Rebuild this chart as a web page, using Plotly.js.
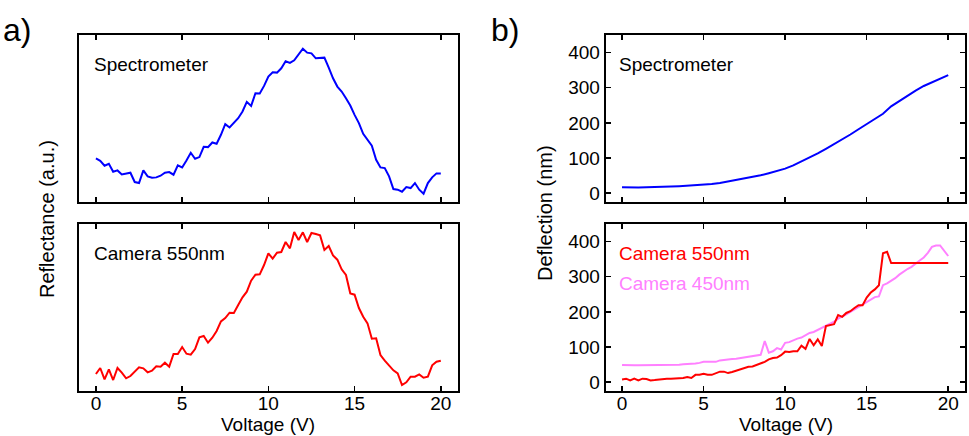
<!DOCTYPE html>
<html>
<head>
<meta charset="utf-8">
<script src="https://cdn.plot.ly/plotly-3.0.1.min.js"></script>
<style>html,body{margin:0;padding:0;background:#fff;}#chart{width:969px;height:436px;}</style>
</head>
<body>
<div id="chart"></div>
<script>
// Voltage grid (V)
const voltage = [0,0.25,0.5,0.75,1,1.25,1.5,1.75,2,2.25,2.5,2.75,3,3.25,3.5,3.75,4,4.25,4.5,4.75,
  5,5.25,5.5,5.75,6,6.25,6.5,6.75,7,7.25,7.5,7.75,8,8.25,8.5,8.75,9,9.25,9.5,9.75,
  10,10.25,10.5,10.75,11,11.25,11.5,11.75,12,12.25,12.5,12.75,13,13.25,13.5,13.75,14,14.25,14.5,14.75,
  15,15.25,15.5,15.75,16,16.25,16.5,16.75,17,17.25,17.5,17.75,18,18.25,18.5,18.75,19,19.25,19.5,19.75,20];
const voltageHalf = [0,0.5,1,1.5,2,2.5,3,3.5,4,4.5,5,5.5,6,6.5,7,7.5,8,8.5,9,9.5,
  10,10.5,11,11.5,12,12.5,13,13.5,14,14.5,15,15.5,16,16.5,17,17.5,18,18.5,19,19.5,20];

// a) Reflectance (a.u.)
const reflSpectrometer = [131,124,109,115,91,95,83,85,88,60,
  57,95,77,73,74,79,88,90,82,110,
  104,125,148,130,135,166,165,179,175,202,
  234,224,237,252,272,301,289,327,326,349,
  377,390,389,402,423,418,426,443,461,449,
  447,432,432,434,404,372,347,332,312,290,
  262,237,205,187,169,127,104,102,77,39,
  37,31,45,42,57,37,25,57,74,86,86];
const reflCamera550 = [51,69,35,65,33,69,55,38,45,59,
  71,68,56,61,74,73,85,73,111,111,
  132,112,109,126,161,165,145,160,180,209,
  219,235,234,258,281,298,331,349,350,378,
  413,397,415,417,447,428,477,453,476,447,
  474,471,467,423,435,407,394,365,348,293,
  289,249,223,203,157,158,108,91,75,62,
  53,18,26,43,43,50,40,43,77,88,91];

// b) Deflection (nm)
const deflSpectrometer = [17,16,16,17,17,18,19,20,21,22,
  24,26,29,33,37,42,46,51,57,63,
  70,79,90,101,113,126,139,153,167,182,
  196,211,226,247,262,278,292,305,316,326,336];
const deflCamera550 = [8,10,5,10,5,10,9,5,6,8,
  10,10,10,10,12,12,15,12,21,21,
  24,21,21,25,30,30,26,29,33,38,
  40,44,45,49,54,58,65,69,70,77,
  87,86,88,88,104,95,123,105,122,103,
  160,162,165,191,186,197,202,211,219,219,
  241,255,264,276,367,371,339,339,339,339,
  339,339,339,339,339,339,339,339,339,339,339];
const deflCamera450 = [49,48,48,48,48,48,48,48,49,49,
  49,49,50,50,50,51,51,52,53,55,
  58,58,58,58,62,64,66,66,67,69,
  70,72,75,77,78,117,84,88,97,93,
  112,114,120,124,127,133,140,143,149,156,
  162,166,172,181,186,193,200,207,214,220,
  227,236,242,244,276,281,288,296,306,315,
  322,328,336,346,355,368,385,389,389,375,359];

const xTicks = [0,5,10,15,20];
const yTicksB = [0,100,200,300,400];

const FONT = '"Liberation Sans", Arial, Helvetica, sans-serif';
const BLUE = '#0000ff', RED = '#ff0000', PINK = '#ff80ff';

const traces = [
  {x: voltage, y: reflSpectrometer, xaxis:'x', yaxis:'y', mode:'lines', line:{color:BLUE, width:2}},
  {x: voltage, y: reflCamera550, xaxis:'x2', yaxis:'y2', mode:'lines', line:{color:RED, width:2}},
  {x: voltageHalf, y: deflSpectrometer, xaxis:'x3', yaxis:'y3', mode:'lines', line:{color:BLUE, width:2}},
  {x: voltage, y: deflCamera450, xaxis:'x4', yaxis:'y4', mode:'lines', line:{color:PINK, width:2}},
  {x: voltage, y: deflCamera550, xaxis:'x4', yaxis:'y4', mode:'lines', line:{color:RED, width:2}}
];

const axX = (dom, labels, anchor) => ({
  domain: dom, anchor: anchor, range: [-1, 21], tickvals: xTicks, ticks: 'inside', ticklen: 5,
  tickwidth: 1.5, tickcolor: '#000', showticklabels: labels, showline: true, mirror: 'ticks',
  linecolor: '#000', linewidth: 2, showgrid: false, zeroline: false, ticklabelstandoff: -6,
  tickfont: {family: FONT, size: 19, color: '#000'}
});
const axYa = (dom, range, anchor) => ({
  domain: dom, anchor: anchor, range: range, showticklabels: false, ticks: '', showline: true,
  mirror: true, linecolor: '#000', linewidth: 2, showgrid: false, zeroline: false
});
const axYb = (dom, anchor) => ({
  domain: dom, anchor: anchor, range: [-25, 450], tickvals: yTicksB, ticks: 'inside', ticklen: 5,
  tickwidth: 1.5, tickcolor: '#000', showline: true, mirror: 'ticks', linecolor: '#000', linewidth: 2,
  showgrid: false, zeroline: false, tickfont: {family: FONT, size: 19, color: '#000'}
});

const xa = [0.0812, 0.4727], xb = [0.6251, 0.9954];
const yt = [0.5367, 0.9197], yb = [0.1032, 0.4862];

function ann(text, x, y, opts) {
  return Object.assign({text: text, x: x, y: y, xref: 'paper', yref: 'paper', showarrow: false,
    xanchor: 'center', yanchor: 'middle', font: {family: FONT, size: 19, color: '#000'}}, opts || {});
}

const layout = {
  width: 969, height: 436, margin: {l: 0, r: 0, t: 0, b: 0},
  font: {family: FONT},
  paper_bgcolor: '#fff', plot_bgcolor: '#fff', showlegend: false,
  xaxis: axX(xa, false, 'y'), yaxis: axYa(yt, [0, 502], 'x'),
  xaxis2: axX(xa, true, 'y2'), yaxis2: axYa(yb, [0, 501], 'x2'),
  xaxis3: axX(xb, false, 'y3'), yaxis3: axYb(yt, 'x3'),
  xaxis4: axX(xb, true, 'y4'), yaxis4: axYb(yb, 'x4'),
  annotations: [
    ann('a)', 0.0175, 0.931, {font: {family: FONT, size: 32, color: '#000'}}),
    ann('b)', 0.5212, 0.931, {font: {family: FONT, size: 32, color: '#000'}}),
    ann('Reflectance (a.u.)', 0.0485, 0.4977, {textangle: -90, font: {family: FONT, size: 20, color: '#000'}}),
    ann('Deflection (nm)', 0.5624, 0.5115, {textangle: -90, font: {family: FONT, size: 20, color: '#000'}}),
    ann('Voltage (V)', 0.2766, 0.0275),
    ann('Voltage (V)', 0.8111, 0.0275),
    ann('Spectrometer', 0.0949, 0.8532, {xanchor: 'left'}),
    ann('Camera 550nm', 0.0949, 0.4197, {xanchor: 'left'}),
    ann('Spectrometer', 0.6367, 0.8532, {xanchor: 'left'}),
    ann('Camera 550nm', 0.6367, 0.4197, {xanchor: 'left', font: {family: FONT, size: 19, color: RED}}),
    ann('Camera 450nm', 0.6367, 0.3509, {xanchor: 'left', font: {family: FONT, size: 19, color: PINK}})
  ]
};

Plotly.newPlot('chart', traces, layout, {staticPlot: true, displayModeBar: false});
</script>
</body>
</html>
